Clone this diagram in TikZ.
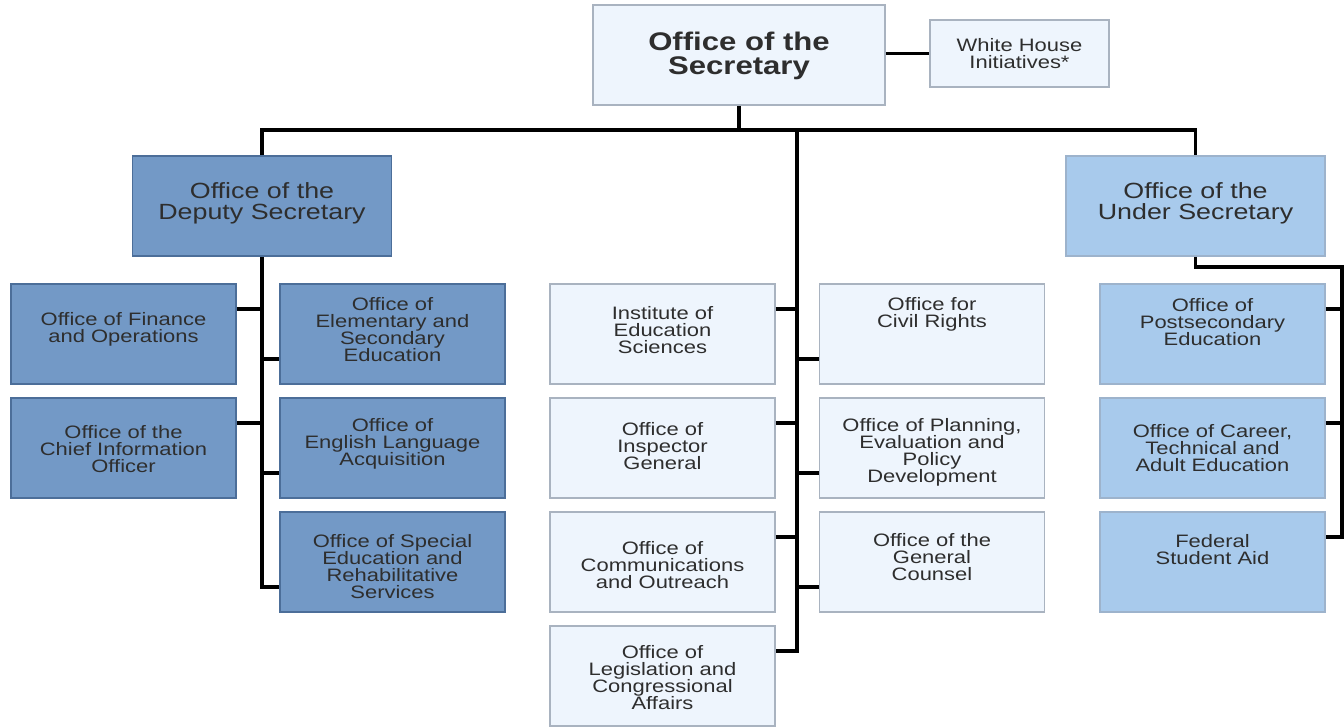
\documentclass[tikz,border=0pt]{standalone}
\usepackage{fontspec}
\setmainfont[FakeStretch=1.22]{Liberation Sans}
\usetikzlibrary{positioning}
\definecolor{lightfill}{HTML}{EEF5FD}
\definecolor{lightline}{HTML}{A9B3C0}
\definecolor{deepfill}{HTML}{7399C6}
\definecolor{deepline}{HTML}{4C6E99}
\definecolor{midfill}{HTML}{A8CAEC}
\definecolor{midline}{HTML}{9DB3CC}
\definecolor{inktext}{HTML}{2E2E2E}
\tikzset{
  box/.style={rectangle, minimum width=225pt, minimum height=100pt, inner sep=0pt, line width=1.6pt},
  lightbox/.style={box, draw=lightline, fill=lightfill},
  deepbox/.style={box, draw=deepline, fill=deepfill},
  midbox/.style={box, draw=midline, fill=midfill},
  txt/.style={align=center, inner sep=0pt, text=inktext, font=\fontsize{18}{17}\selectfont},
  conn/.style={draw=black, line width=3.8pt},
}
\begin{document}
\begin{tikzpicture}[x=1pt,y=-1pt]
\useasboundingbox (0,0) rectangle (1344,728);
% top level
\node[lightbox, minimum width=292pt] (sec) at (739,55) {};
\node[txt, font=\bfseries\fontsize{25.5}{24}\selectfont, below=28pt of sec.north] (sec-t) {Office of the\\Secretary};
\node[lightbox, minimum width=179pt, minimum height=67pt] (whi) at (1019.5,53.5) {};
\node[txt, font=\fontsize{18}{17}\selectfont, below=19pt of whi.north] (whi-t) {White House\\Initiatives*};
\node[deepbox, minimum width=259pt] (dep) at (262,206) {};
\node[txt, font=\fontsize{22}{21}\selectfont, below=27pt of dep.north] (dep-t) {Office of the\\Deputy Secretary};
\node[midbox, minimum width=259pt] (und) at (1195.5,206) {};
\node[txt, font=\fontsize{22}{21}\selectfont, below=27pt of und.north] (und-t) {Office of the\\Under Secretary};
% deputy secretary offices
\node[deepbox] (fin) at (123.5,334) {};
\node[txt, below=29pt of fin.north] (fin-t) {Office of Finance\\and Operations};
\node[deepbox] (cio) at (123.5,448) {};
\node[txt, below=28pt of cio.north] (cio-t) {Office of the\\Chief Information\\Officer};
\node[deepbox] (ese) at (392.5,334) {};
\node[txt, below=14pt of ese.north] (ese-t) {Office of\\Elementary and\\Secondary\\Education};
\node[deepbox] (ela) at (392.5,448) {};
\node[txt, below=21pt of ela.north] (ela-t) {Office of\\English Language\\Acquisition};
\node[deepbox] (sers) at (392.5,562) {};
\node[txt, below=23pt of sers.north] (sers-t) {Office of Special\\Education and\\Rehabilitative\\Services};
% offices under the secretary
\node[lightbox] (ies) at (662.5,334) {};
\node[txt, below=23pt of ies.north] (ies-t) {Institute of\\Education\\Sciences};
\node[lightbox] (oig) at (662.5,448) {};
\node[txt, below=25pt of oig.north] (oig-t) {Office of\\Inspector\\General};
\node[lightbox] (oco) at (662.5,562) {};
\node[txt, below=30pt of oco.north] (oco-t) {Office of\\Communications\\and Outreach};
\node[lightbox] (olca) at (662.5,676) {};
\node[txt, below=20pt of olca.north] (olca-t) {Office of\\Legislation and\\Congressional\\Affairs};
\node[lightbox] (ocr) at (932,334) {};
\node[txt, below=14pt of ocr.north] (ocr-t) {Office for\\Civil Rights};
\node[lightbox] (opepd) at (932,448) {};
\node[txt, below=21pt of opepd.north] (opepd-t) {Office of Planning,\\Evaluation and\\Policy\\Development};
\node[lightbox] (ogc) at (932,562) {};
\node[txt, below=22pt of ogc.north] (ogc-t) {Office of the\\General\\Counsel};
% under secretary offices
\node[midbox] (ope) at (1212.5,334) {};
\node[txt, below=15pt of ope.north] (ope-t) {Office of\\Postsecondary\\Education};
\node[midbox] (octae) at (1212.5,448) {};
\node[txt, below=27pt of octae.north] (octae-t) {Office of Career,\\Technical and\\Adult Education};
\node[midbox] (fsa) at (1212.5,562) {};
\node[txt, below=23pt of fsa.north] (fsa-t) {Federal\\Student Aid};
% connectors
\coordinate (bar) at (797,130);
\coordinate (ubus) at (1342,267);
\draw[conn] (sec.south) -- (sec.south |- bar);
\draw[conn] (sec.east |- whi.west) -- (whi.west);
\draw[conn] (dep.north) |- (bar) -| (und.north);
\draw[conn] (dep.south) |- ([yshift=-25pt]sers.west);
\foreach \n in {fin,cio}
  \draw[conn] ([yshift=25pt]\n.east) -- ([yshift=25pt]\n.east -| dep.south);
\foreach \n in {ese,ela}
  \draw[conn] ([yshift=-25pt]\n.west) -- ([yshift=-25pt]\n.west -| dep.south);
\draw[conn] (bar) |- ([yshift=25pt]olca.east);
\foreach \n in {ies,oig,oco}
  \draw[conn] ([yshift=25pt]\n.east) -- ([yshift=25pt]\n.east -| bar);
\foreach \n in {ocr,opepd,ogc}
  \draw[conn] ([yshift=-25pt]\n.west) -- ([yshift=-25pt]\n.west -| bar);
\draw[conn] (und.south) |- (ubus) |- ([yshift=25pt]fsa.east);
\foreach \n in {ope,octae}
  \draw[conn] ([yshift=25pt]\n.east) -- ([yshift=25pt]\n.east -| ubus);
\end{tikzpicture}
\end{document}
